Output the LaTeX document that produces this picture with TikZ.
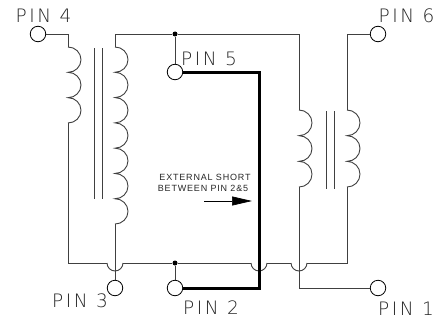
\documentclass[tikz,border=0pt]{standalone}
\usepackage{fontspec}
\setmainfont{Liberation Sans}
\newfontfamily\pinfont[LetterSpace=14]{DejaVu Sans ExtraLight}
\newfontfamily\notefont[LetterSpace=9]{Liberation Sans}
\usetikzlibrary{arrows.meta}
\definecolor{wirec}{gray}{0.25}
\tikzset{
  x=1pt,y=1pt,
  wire/.style={draw=wirec,line width=0.9pt,line join=miter},
  heavy/.style={draw=black,line width=3pt,line join=miter},
  pin/.style={circle,draw=black,line width=0.8pt,fill=white,minimum size=15.5pt,inner sep=0pt},
  junct/.style={circle,fill=black,minimum size=5pt,inner sep=0pt},
  pinlabel/.style={font=\pinfont\fontsize{18.5}{20}\selectfont,inner sep=0pt,text=black!85},
  smalllabel/.style={font=\notefont\fontsize{9}{11}\selectfont,inner sep=0pt,text=black!85},
  corel/.style={draw=wirec,line width=0.8pt}
}
\newcommand{\coilturns}[3]{% start coordinate, count, pitch
  \draw[wire] (#1) \foreach \k in {1,...,#2} { arc[start angle=90,end angle=-90,x radius=13,y radius=#3/2] };
}
\begin{document}
\begin{tikzpicture}
\useasboundingbox (0,0) rectangle (435,-321);
\fill[white] (0,0) rectangle (435,-321);
% named points
\coordinate (c4a) at (68,-34);
\coordinate (c4b) at (68,-47);
\coordinate (c4c) at (68,-123);
\coordinate (bl) at (68,-263);
\coordinate (c3top) at (115,-34);
\coordinate (c3a) at (115,-47);
\coordinate (c3b) at (115,-224);
\coordinate (tr) at (299,-34);
\coordinate (c1a) at (299,-110);
\coordinate (c1b) at (299,-187);
\coordinate (bc1) at (299,-288);
\coordinate (c6top) at (347,-34);
\coordinate (c6a) at (347,-110);
\coordinate (c6b) at (347,-187);
\coordinate (br) at (347,-263);
\coordinate (hop1l) at (107,-263);
\coordinate (hop1r) at (123,-263);
\coordinate (hop2l) at (251,-263);
\coordinate (hop2r) at (267,-263);
\coordinate (hop3l) at (291,-263);
\coordinate (hop3r) at (307,-263);
\coordinate (th1) at (259,-72);
\coordinate (th2) at (259,-288);
% pins
\node[pin] (p4) at (38,-34) {};
\node[pin] (p6) at (378,-34) {};
\node[pin] (p5) at (175,-72) {};
\node[pin] (p3) at (115,-288) {};
\node[pin] (p2) at (175,-288) {};
\node[pin] (p1) at (378,-288) {};
\node[junct] (jt) at (175,-34) {};
\node[junct] (jb) at (175,-263) {};
% wires
\draw[wire] (p4) -- (c4a) -- (c4b);
\coilturns{c4b}{3}{25.33}
\draw[wire] (c4c) -- (bl) -- (hop1l);
\draw[wire] (hop1l) arc[start angle=180,end angle=360,radius=8];
\draw[wire] (hop1r) -- (jb) -- (hop2l);
\draw[wire] (hop2l) arc[start angle=180,end angle=360,radius=8];
\draw[wire] (hop2r) -- (hop3l);
\draw[wire] (hop3l) arc[start angle=180,end angle=360,radius=8];
\draw[wire] (hop3r) -- (br) -- (c6b);
\draw[wire] (c3a) -- (c3top) -- (jt) -- (tr) -- (c1a);
\coilturns{c3a}{7}{25.29}
\draw[wire] (c3b) -- (p3);
\coilturns{c1a}{3}{25.67}
\draw[wire] (c1b) -- (bc1) -- (p1);
\coilturns{c6a}{3}{25.67}
\draw[wire] (c6a) -- (c6top) -- (p6);
\draw[wire] (jt) -- (p5);
\draw[wire] (jb) -- (p2);
\draw[heavy] (p5) -- (th1) -- (th2) -- (p2);
% cores
\draw[corel] (94,-48) -- (94,-199);
\draw[corel] (102,-48) -- (102,-199);
\draw[corel] (326,-111) -- (326,-189);
\draw[corel] (334,-111) -- (334,-189);
% labels
\node[pinlabel] (l4) at (43.5,-15.5) {PIN 4};
\node[pinlabel] (l6) at (406.5,-16) {PIN 6};
\node[pinlabel] (l5) at (209,-59) {PIN 5};
\node[pinlabel] (l3) at (80,-301) {PIN 3};
\node[pinlabel] (l2) at (211,-307.5) {PIN 2};
\node[pinlabel] (l1) at (406,-309) {PIN 1};
\node[smalllabel] (t1) at (205,-177) {EXTERNAL SHORT};
\node[smalllabel] (t2) at (203,-188.5) {BETWEEN PIN 2\&5};
% note arrow
\coordinate (a1) at (204,-201);
\coordinate (a2) at (252,-201);
\draw[draw=black,line width=0.7pt,-{Triangle[length=20pt,width=9pt,black]}] (a1) -- (a2);
\end{tikzpicture}
\end{document}
